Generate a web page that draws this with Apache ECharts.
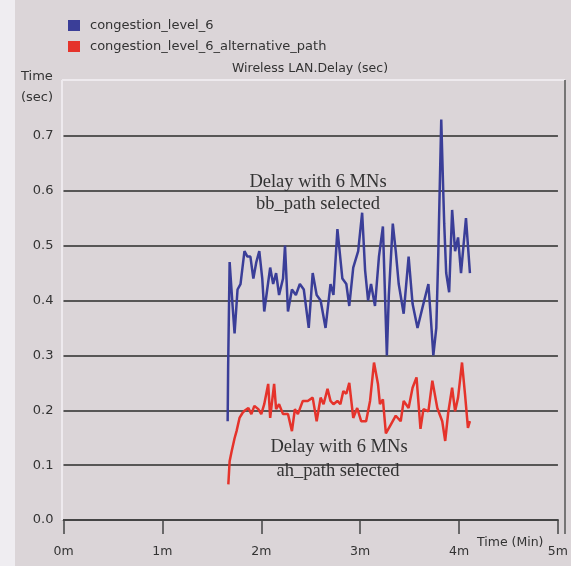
<!DOCTYPE html>
<html>
<head>
<meta charset="utf-8">
<script src="https://cdn.jsdelivr.net/npm/echarts@6/dist/echarts.min.js"></script>
<style>
html,body{margin:0;padding:0;background:#efedf1;}
#chart{width:571px;height:566px;}
</style>
</head>
<body>
<div id="chart"></div>
<script>
// ---- data (time in minutes, delay in seconds) ----
var blueTime = [1.66,1.665,1.68,1.71,1.73,1.76,1.79,1.83,1.86,1.89,1.92,1.95,1.98,2.01,2.03,2.06,2.09,2.12,2.15,2.18,2.22,2.24,2.27,2.31,2.35,2.39,2.43,2.48,2.52,2.56,2.60,2.65,2.70,2.73,2.77,2.82,2.86,2.89,2.93,2.98,3.02,3.05,3.08,3.11,3.15,3.19,3.23,3.27,3.29,3.33,3.36,3.39,3.44,3.49,3.53,3.58,3.63,3.69,3.71,3.74,3.77,3.79,3.82,3.84,3.85,3.87,3.90,3.93,3.96,3.99,4.02,4.07,4.11];
var blueDelay = [0.18,0.28,0.47,0.39,0.34,0.42,0.43,0.49,0.48,0.48,0.44,0.47,0.49,0.44,0.38,0.42,0.46,0.43,0.45,0.41,0.44,0.50,0.38,0.42,0.41,0.43,0.42,0.35,0.45,0.41,0.40,0.35,0.43,0.41,0.53,0.44,0.43,0.39,0.46,0.49,0.56,0.455,0.40,0.43,0.39,0.48,0.535,0.30,0.41,0.54,0.49,0.43,0.376,0.48,0.394,0.35,0.387,0.43,0.38,0.30,0.35,0.485,0.73,0.60,0.54,0.45,0.415,0.565,0.49,0.515,0.45,0.55,0.45];
var redTime = [1.667,1.68,1.70,1.73,1.75,1.78,1.81,1.83,1.87,1.90,1.93,1.97,2.00,2.03,2.07,2.09,2.13,2.15,2.18,2.22,2.27,2.31,2.34,2.37,2.42,2.47,2.52,2.56,2.60,2.63,2.67,2.70,2.73,2.77,2.80,2.83,2.86,2.89,2.93,2.97,3.01,3.06,3.10,3.14,3.18,3.20,3.23,3.26,3.31,3.36,3.41,3.44,3.49,3.53,3.57,3.61,3.64,3.69,3.73,3.78,3.83,3.86,3.89,3.93,3.96,3.99,4.03,4.06,4.09,4.11];
var redDelay = [0.065,0.107,0.125,0.149,0.162,0.186,0.195,0.199,0.204,0.193,0.208,0.202,0.193,0.211,0.248,0.186,0.248,0.202,0.211,0.193,0.193,0.162,0.202,0.193,0.217,0.217,0.223,0.180,0.223,0.211,0.239,0.217,0.211,0.217,0.211,0.235,0.23,0.25,0.186,0.204,0.18,0.18,0.217,0.287,0.248,0.211,0.22,0.158,0.174,0.19,0.18,0.217,0.204,0.241,0.26,0.166,0.202,0.198,0.254,0.204,0.18,0.144,0.195,0.241,0.198,0.223,0.287,0.23,0.168,0.18];
var seriesNames = ['congestion_level_6','congestion_level_6_alternative_path'];
var xTicks = [0,1,2,3,4,5];
var yTicks = [0,0.1,0.2,0.3,0.4,0.5,0.6,0.7,0.8];

function zip(a,b){ return a.map(function(v,i){ return [v,b[i]]; }); }

var chart = echarts.init(document.getElementById('chart'), null, {renderer:'canvas'});
var bg = '#dbd5d8';
var sans = '"DejaVu Sans", Verdana, sans-serif';
var serif = '"Liberation Serif", "Times New Roman", serif';
var gridColors = yTicks.map(function(v,i){ return i === yTicks.length-1 ? 'rgba(0,0,0,0)' : '#2b2b2b'; });

chart.setOption({
  backgroundColor: 'transparent',
  animation: false,
  graphic: [
    {type:'rect', shape:{x:15,y:0,width:556,height:566}, style:{fill:bg}, z:-10},
    {type:'line', shape:{x1:62,y1:80,x2:565,y2:80}, style:{stroke:'#eeeaee',lineWidth:2}, z:1},
    {type:'line', shape:{x1:62,y1:80,x2:62,y2:520}, style:{stroke:'#eeeaee',lineWidth:2}, z:1},
    {type:'line', shape:{x1:565,y1:80,x2:565,y2:534}, style:{stroke:'#555',lineWidth:1.5}, z:5},
    {type:'text', left:21, top:70, style:{text:'Time', font:'13px ' + sans, fill:'#333'}},
    {type:'text', left:21, top:91, style:{text:'(sec)', font:'13px ' + sans, fill:'#333'}},
    {type:'text', left:477, top:536, style:{text:'Time (Min)', font:'12.5px ' + sans, fill:'#333'}},
    {type:'text', x:318, y:182, style:{text:'Delay with 6 MNs', font:'18.5px ' + serif, fill:'#333', align:'center', verticalAlign:'middle'}, z:10},
    {type:'text', x:318, y:204, style:{text:'bb_path selected', font:'18.5px ' + serif, fill:'#333', align:'center', verticalAlign:'middle'}, z:10},
    {type:'text', x:339, y:447, style:{text:'Delay with 6 MNs', font:'18.5px ' + serif, fill:'#333', align:'center', verticalAlign:'middle'}, z:10},
    {type:'text', x:338, y:471, style:{text:'ah_path selected', font:'18.5px ' + serif, fill:'#333', align:'center', verticalAlign:'middle'}, z:10}
  ],
  title: {
    text: 'Wireless LAN.Delay (sec)',
    left: 227, top: 57,
    textStyle: {fontSize:12.5, fontWeight:'normal', color:'#333', fontFamily:sans}
  },
  legend: {
    orient:'vertical', left:63, top:14, itemGap:8,
    icon:'rect', itemWidth:12, itemHeight:11,
    data: seriesNames,
    textStyle:{fontSize:13, color:'#333', fontFamily:sans, padding:[0,0,0,5]}
  },
  grid: {left:63.5, right:7, top:81, bottom:46},
  xAxis: {
    type:'value', min:0, max:5, interval:1,
    axisLine:{show:true, onZero:false, lineStyle:{color:'#444', width:2}},
    axisTick:{show:true, length:14, lineStyle:{color:'#444', width:1.5}},
    axisLabel:{formatter:function(v){return v+'m';}, color:'#333', fontSize:12.5, margin:25, fontFamily:sans},
    splitLine:{show:false}
  },
  yAxis: {
    type:'value', min:0, max:0.8, interval:0.1,
    axisLine:{show:false}, axisTick:{show:false},
    axisLabel:{formatter:function(v){ return v >= 0.79 ? '' : v.toFixed(1); }, color:'#333', fontSize:13, margin:10, fontFamily:sans},
    splitLine:{show:true, lineStyle:{color:gridColors, width:1.5}}
  },
  series: [
    {name:seriesNames[0], type:'line', data:zip(blueTime,blueDelay), showSymbol:false, symbol:'none',
     lineStyle:{color:'#3a3e98', width:2.5}, itemStyle:{color:'#3a3e98'}, z:3},
    {name:seriesNames[1], type:'line', data:zip(redTime,redDelay), showSymbol:false, symbol:'none',
     lineStyle:{color:'#e5332b', width:2.5}, itemStyle:{color:'#e5332b'}, z:3}
  ]
});
</script>
</body>
</html>
